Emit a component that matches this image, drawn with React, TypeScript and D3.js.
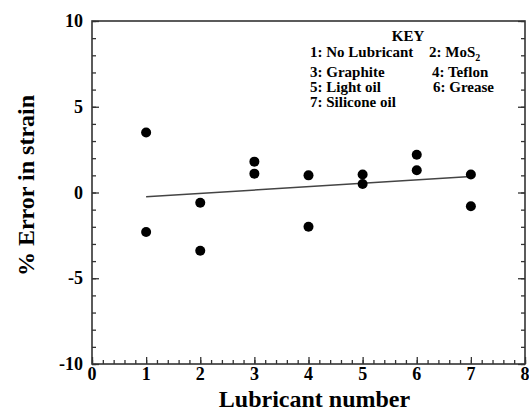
import React, { useEffect, useRef } from "react";
import * as d3 from "d3";

const lubricant = [1, 1, 2, 2, 3, 3, 4, 4, 5, 5, 6, 6, 7, 7];
const errorPct = [3.5, -2.3, -0.6, -3.4, 1.8, 1.1, 1.0, -2.0, 1.05, 0.5, 2.2, 1.3, 1.05, -0.8];
const fitX = [1, 7];
const fitY = [-0.25, 0.93];
const xTicks = [0, 1, 2, 3, 4, 5, 6, 7, 8];
const yTicks = [-10, -5, 0, 5, 10];
const keyLeft = ["1: No Lubricant", "3: Graphite", "5: Light oil", "7: Silicone oil"];
const keyRight = ["2: MoS", "4: Teflon", "6: Grease"];

const W = 529;
const H = 413;
const m = { left: 92, right: 4, top: 21, bottom: 49 };
const FONT = "Liberation Serif, Times New Roman, Times, serif";

const App = () => {
  const ref = useRef(null);

  useEffect(() => {
    const svg = d3.select(ref.current);
    svg.selectAll("*").remove();

    const x = d3.scaleLinear().domain([0, 8]).range([m.left, W - m.right]);
    const y = d3.scaleLinear().domain([-10, 10]).range([H - m.bottom, m.top]);

    const g = svg.append("g");

    // minor + major ticks, all pointing inward
    const minorX = d3.range(0, 8.01, 0.2);
    const minorY = d3.range(-10, 10.01, 1);

    const addAxis = (axis, tx, ty) =>
      g.append("g").attr("class", "ax").attr("transform", `translate(${tx},${ty})`).call(axis);

    addAxis(d3.axisTop(x).tickValues(minorX).tickSize(4).tickFormat(() => ""), 0, y(-10));
    addAxis(d3.axisTop(x).tickValues(xTicks).tickSize(7).tickFormat(() => ""), 0, y(-10));
    addAxis(d3.axisRight(y).tickValues(minorY).tickSize(4).tickFormat(() => ""), x(0), 0);
    addAxis(d3.axisRight(y).tickValues(yTicks).tickSize(7).tickFormat(() => ""), x(0), 0);
    addAxis(d3.axisLeft(y).tickValues(minorY).tickSize(4).tickFormat(() => ""), x(8), 0);
    addAxis(d3.axisLeft(y).tickValues(yTicks).tickSize(7).tickFormat(() => ""), x(8), 0);

    g.selectAll(".ax .domain").remove();
    g.selectAll(".ax text").remove();
    g.selectAll(".tick line").attr("stroke", "#333").attr("stroke-width", 1.3);

    // frame
    g.append("rect")
      .attr("x", x(0))
      .attr("y", y(10))
      .attr("width", x(8) - x(0))
      .attr("height", y(-10) - y(10))
      .attr("fill", "none")
      .attr("stroke", "#333")
      .attr("stroke-width", 1.6);

    const txt = g.append("g").style("font-family", FONT).style("font-weight", "bold");

    // tick labels
    txt.selectAll(".xl")
      .data(xTicks)
      .join("text")
      .attr("class", "xl")
      .attr("x", (d) => x(d))
      .attr("y", y(-10) + 16)
      .attr("text-anchor", "middle")
      .style("font-size", "18px")
      .text((d) => d);

    txt.selectAll(".yl")
      .data(yTicks)
      .join("text")
      .attr("class", "yl")
      .attr("x", x(0) - 9)
      .attr("y", (d) => y(d) + 6)
      .attr("text-anchor", "end")
      .style("font-size", "18px")
      .text((d) => d);

    // axis titles
    txt.append("text")
      .attr("x", (x(0) + x(8)) / 2 + 6)
      .attr("y", H - 6)
      .attr("text-anchor", "middle")
      .style("font-size", "24px")
      .text("Lubricant number");

    txt.append("text")
      .attr("transform", `translate(34,${y(0) - 7}) rotate(-90)`)
      .attr("text-anchor", "middle")
      .style("font-size", "24px")
      .text("% Error in strain");

    // fit line
    const fit = fitX.map((v, i) => [v, fitY[i]]);
    g.append("path")
      .attr("d", d3.line().x((d) => x(d[0])).y((d) => y(d[1]))(fit))
      .attr("fill", "none")
      .attr("stroke", "#444")
      .attr("stroke-width", 1.5);

    // points
    g.selectAll(".pt")
      .data(lubricant.map((v, i) => [v, errorPct[i]]))
      .join("circle")
      .attr("class", "pt")
      .attr("cx", (d) => x(d[0]))
      .attr("cy", (d) => y(d[1]))
      .attr("r", 5)
      .attr("fill", "#000");

    // key
    const key = txt.append("g").style("font-size", "15px");
    key.append("text").attr("x", 408).attr("y", 41).attr("text-anchor", "middle").text("KEY");
    const rowY = [57, 77, 92, 107];
    key.selectAll(".kl")
      .data(keyLeft)
      .join("text")
      .attr("class", "kl")
      .attr("x", 310)
      .attr("y", (d, i) => rowY[i])
      .text((d) => d);
    const rightX = [429, 432, 433];
    const kr = key.selectAll(".kr")
      .data(keyRight)
      .join("text")
      .attr("class", "kr")
      .attr("x", (d, i) => rightX[i])
      .attr("y", (d, i) => rowY[i]);
    kr.text((d) => d);
    kr.filter((d, i) => i === 0)
      .append("tspan")
      .style("font-size", "10px")
      .attr("dy", 4)
      .text("2");
  }, []);

  return (
    <svg
      ref={ref}
      width={W}
      height={H}
      style={{ position: "absolute", left: 0, top: 0, background: "#fff" }}
    />
  );
};

export default App;
